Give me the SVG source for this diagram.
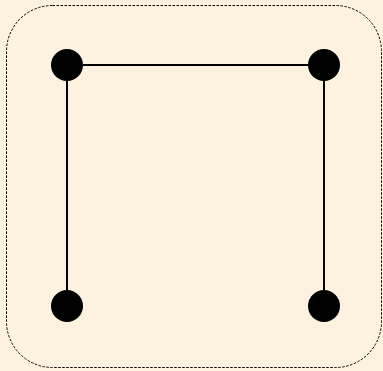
<svg xmlns="http://www.w3.org/2000/svg" width="383" height="371" viewBox="0 0 383 371">
<style>
.node{fill:#000}
.edge{stroke:#000;stroke-width:2;fill:none}
</style>
<rect x="0" y="0" width="383" height="371" fill="#fdf2df"/>
<rect x="6.5" y="5.5" width="375" height="362" rx="46" ry="46" fill="none" stroke="#000" stroke-width="1" stroke-dasharray="2.5,1.5"/>
<g id="connectors">
<path class="edge" d="M67 306 V65 H324 V306"/>
</g>
<g id="n1"><circle class="node" cx="67" cy="65" r="16"/></g>
<g id="n2"><circle class="node" cx="324" cy="65" r="16"/></g>
<g id="n3"><circle class="node" cx="67" cy="306" r="16"/></g>
<g id="n4"><circle class="node" cx="324" cy="306" r="16"/></g>
</svg>
